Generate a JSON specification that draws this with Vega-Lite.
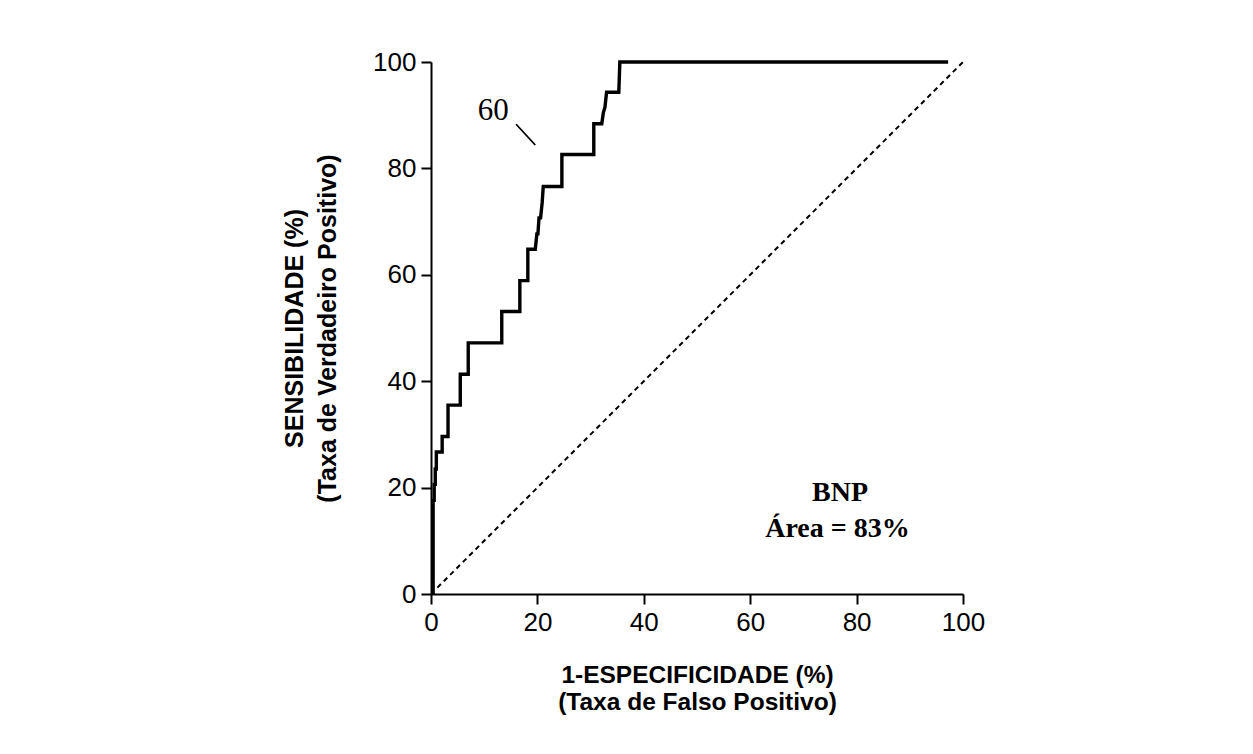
{
  "$schema": "https://vega.github.io/schema/vega-lite/v6.json",
  "width": 532,
  "height": 532,
  "autosize": {"type": "none"},
  "padding": {"left": 431, "top": 62, "right": 290, "bottom": 160},
  "background": "white",
  "config": {
    "view": {"stroke": null},
    "axis": {
      "grid": false,
      "domainColor": "black",
      "domainWidth": 2,
      "tickColor": "black",
      "tickWidth": 2,
      "tickSize": 10,
      "labelFont": "Liberation Sans",
      "labelFontSize": 26,
      "labelColor": "black",
      "labelPadding": 5,
      "labelFlush": false,
      "titleFont": "Liberation Sans",
      "titleFontWeight": "bold",
      "titleColor": "black"
    }
  },
  "datasets": {
    "roc": [
      {"i": 0, "fpr": 0.4, "sens": 0},
      {"i": 1, "fpr": 0.4, "sens": 17.6},
      {"i": 2, "fpr": 0.6, "sens": 17.6},
      {"i": 3, "fpr": 0.6, "sens": 20.6},
      {"i": 4, "fpr": 0.8, "sens": 20.6},
      {"i": 5, "fpr": 0.8, "sens": 23.5},
      {"i": 6, "fpr": 1.0, "sens": 23.5},
      {"i": 7, "fpr": 1.0, "sens": 26.7},
      {"i": 8, "fpr": 2.1, "sens": 26.7},
      {"i": 9, "fpr": 2.1, "sens": 29.6},
      {"i": 10, "fpr": 3.2, "sens": 29.6},
      {"i": 11, "fpr": 3.2, "sens": 35.5},
      {"i": 12, "fpr": 5.5, "sens": 35.5},
      {"i": 13, "fpr": 5.5, "sens": 41.3},
      {"i": 14, "fpr": 7.0, "sens": 41.3},
      {"i": 15, "fpr": 7.0, "sens": 47.2},
      {"i": 16, "fpr": 13.3, "sens": 47.2},
      {"i": 17, "fpr": 13.3, "sens": 53.1},
      {"i": 18, "fpr": 16.7, "sens": 53.1},
      {"i": 19, "fpr": 16.7, "sens": 58.9},
      {"i": 20, "fpr": 18.2, "sens": 58.9},
      {"i": 21, "fpr": 18.2, "sens": 64.8},
      {"i": 22, "fpr": 19.6, "sens": 64.8},
      {"i": 23, "fpr": 19.9, "sens": 67.7},
      {"i": 24, "fpr": 20.1, "sens": 67.7},
      {"i": 25, "fpr": 20.3, "sens": 70.7},
      {"i": 26, "fpr": 20.6, "sens": 70.7},
      {"i": 27, "fpr": 20.9, "sens": 73.6},
      {"i": 28, "fpr": 21.1, "sens": 76.6},
      {"i": 29, "fpr": 24.6, "sens": 76.6},
      {"i": 30, "fpr": 24.6, "sens": 82.6},
      {"i": 31, "fpr": 30.6, "sens": 82.6},
      {"i": 32, "fpr": 30.6, "sens": 88.4},
      {"i": 33, "fpr": 32.1, "sens": 88.4},
      {"i": 34, "fpr": 32.4, "sens": 90.5},
      {"i": 35, "fpr": 32.7, "sens": 91.5},
      {"i": 36, "fpr": 33.0, "sens": 94.3},
      {"i": 37, "fpr": 35.3, "sens": 94.3},
      {"i": 38, "fpr": 35.5, "sens": 100},
      {"i": 39, "fpr": 97.2, "sens": 100}
    ],
    "diag": [
      {"fpr": 1.2, "sens": 1.2},
      {"fpr": 100, "sens": 100}
    ],
    "pointer": [
      {"x1": 16.0, "y1": 88.3, "x2": 19.6, "y2": 84.4}
    ],
    "labels": [
      {"label": "60", "x": 11.7, "y": 90.8, "kind": "cut"},
      {"label": "BNP", "x": 76.9, "y": 19.0, "kind": "info"},
      {"label": "Área = 83%", "x": 76.4, "y": 12.2, "kind": "info"}
    ]
  },
  "layer": [
    {
      "data": {"name": "diag"},
      "mark": {"type": "line", "color": "black", "strokeWidth": 2, "strokeDash": [5, 4]},
      "encoding": {
        "x": {
          "field": "fpr", "type": "quantitative",
          "scale": {"domain": [0, 100], "nice": false},
          "axis": {
            "values": [0, 20, 40, 60, 80, 100],
            "title": ["1-ESPECIFICIDADE (%)", "(Taxa de Falso Positivo)"],
            "titleFontSize": 24.5,
            "titleLineHeight": 27,
            "titlePadding": 28
          }
        },
        "y": {
          "field": "sens", "type": "quantitative",
          "scale": {"domain": [0, 100], "nice": false},
          "axis": {
            "values": [0, 20, 40, 60, 80, 100],
            "title": ["SENSIBILIDADE (%)", "(Taxa de Verdadeiro Positivo)"],
            "titleFontSize": 25,
            "titleLineHeight": 33,
            "titlePadding": 32
          }
        }
      }
    },
    {
      "data": {"name": "roc"},
      "mark": {"type": "line", "color": "black", "strokeWidth": 3.4, "strokeJoin": "miter"},
      "encoding": {
        "x": {"field": "fpr", "type": "quantitative"},
        "y": {"field": "sens", "type": "quantitative"},
        "order": {"field": "i", "type": "quantitative"}
      }
    },
    {
      "data": {"name": "pointer"},
      "mark": {"type": "rule", "color": "black", "strokeWidth": 1.8},
      "encoding": {
        "x": {"field": "x1", "type": "quantitative"},
        "y": {"field": "y1", "type": "quantitative"},
        "x2": {"field": "x2"},
        "y2": {"field": "y2"}
      }
    },
    {
      "data": {"name": "labels"},
      "transform": [{"filter": "datum.kind == 'cut'"}],
      "mark": {"type": "text", "font": "Liberation Serif", "fontSize": 31, "color": "black", "align": "center", "baseline": "middle"},
      "encoding": {
        "x": {"field": "x", "type": "quantitative"},
        "y": {"field": "y", "type": "quantitative"},
        "text": {"field": "label"}
      }
    },
    {
      "data": {"name": "labels"},
      "transform": [{"filter": "datum.kind == 'info'"}],
      "mark": {"type": "text", "font": "Liberation Serif", "fontWeight": "bold", "fontSize": 28, "color": "black", "align": "center", "baseline": "middle"},
      "encoding": {
        "x": {"field": "x", "type": "quantitative"},
        "y": {"field": "y", "type": "quantitative"},
        "text": {"field": "label"}
      }
    }
  ]
}
